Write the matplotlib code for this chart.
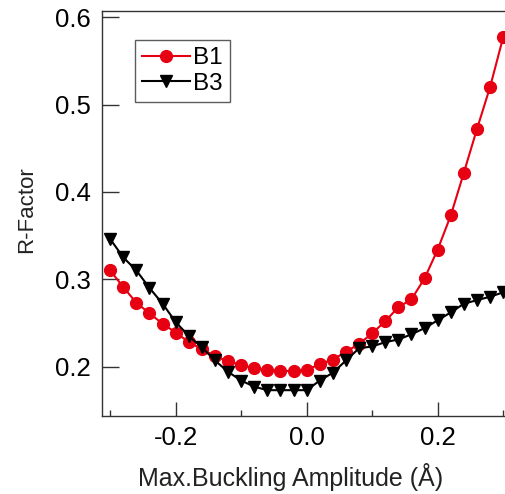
import numpy as np
import matplotlib
matplotlib.use('Agg')
import matplotlib.pyplot as plt
from matplotlib.ticker import MultipleLocator

plt.rcParams['font.family'] = ['Liberation Sans', 'DejaVu Sans']

# buckling amplitude (Angstrom), step 0.02
amp = np.round(np.arange(-0.30, 0.301, 0.02), 2)

b1 = [0.310, 0.291, 0.273, 0.261, 0.249, 0.239, 0.228, 0.220, 0.212, 0.206,
      0.202, 0.198, 0.196, 0.195, 0.195, 0.196, 0.203, 0.208, 0.217, 0.226,
      0.238, 0.252, 0.268, 0.277, 0.301, 0.334, 0.373, 0.422, 0.472, 0.520,
      0.577]
b3 = [0.346, 0.325, 0.310, 0.290, 0.272, 0.251, 0.235, 0.222, 0.207, 0.194,
      0.184, 0.177, 0.173, 0.173, 0.173, 0.173, 0.184, 0.193, 0.207, 0.221,
      0.223, 0.228, 0.231, 0.237, 0.244, 0.253, 0.262, 0.272, 0.276, 0.280,
      0.285]

fig = plt.figure(figsize=(5.05, 4.94), dpi=100)
ax = fig.add_axes([0.202, 0.158, 0.808, 0.820])

ax.plot(amp, b1, color='#e60012', lw=1.5, marker='o', ms=8.5, label='B1')
ax.plot(amp, b3, color='black', lw=1.5, marker='v', ms=8.5, label='B3')

ax.set_xlim(-0.3125, 0.3105)
ax.set_ylim(0.1435, 0.6072)

ax.xaxis.set_minor_locator(MultipleLocator(0.1))
ax.yaxis.set_major_locator(MultipleLocator(0.1))
ax.set_xticks([-0.2, 0.0, 0.2])
ax.set_xticklabels(['-0.2', '0.0', '0.2'])

ax.tick_params(axis='x', which='major', direction='in', length=10, width=1,
               labelsize=18.5, pad=7, color='#333333')
ax.tick_params(axis='x', which='minor', direction='in', length=4.5, width=1,
               color='#333333')
ax.tick_params(axis='y', which='major', direction='in', length=12, width=1,
               labelsize=18.5, pad=8, color='#333333')

for s in ax.spines.values():
    s.set_color('#333333')
    s.set_linewidth(1)

ax.set_xlabel('Max.Buckling Amplitude (Å)', fontsize=18, color='#222222', va='top')
ax.xaxis.set_label_coords(0.461, -0.117)
ax.set_ylabel('R-Factor', fontsize=16, color='#222222')
ax.yaxis.set_label_coords(-0.158, 0.51)

leg = ax.legend(loc='upper left', bbox_to_anchor=(0.081, 0.928), fontsize=17.5,
                frameon=True, fancybox=False, edgecolor='#333333',
                handlelength=1.95, handletextpad=0.15, borderpad=0.3,
                labelspacing=0.15, borderaxespad=0)
leg.get_frame().set_linewidth(1)

fig.savefig('out.png', dpi=100)
